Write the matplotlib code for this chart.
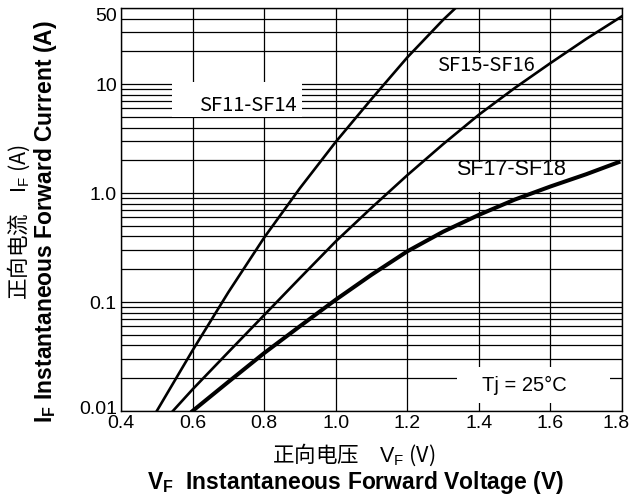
import numpy as np
import matplotlib
matplotlib.use('Agg')
import matplotlib.pyplot as plt
from matplotlib.patches import Rectangle
from matplotlib.ticker import FixedLocator, NullFormatter
from matplotlib.transforms import ScaledTranslation

plt.rcParams['font.family'] = ['Liberation Sans', 'DejaVu Sans']
plt.rcParams['mathtext.fontset'] = 'custom'
plt.rcParams['mathtext.rm'] = 'Liberation Sans'
plt.rcParams['mathtext.it'] = 'Liberation Sans'
plt.rcParams['mathtext.bf'] = 'Liberation Sans:bold'

# forward voltage (V) vs forward current (A)
vf_sf11 = [0.50, 0.60, 0.70, 0.80, 0.90, 1.00, 1.10, 1.20, 1.30, 1.335]
if_sf11 = [0.01, 0.036, 0.123, 0.39, 1.11, 2.95, 7.3, 17.6, 38.9, 50]

vf_sf15 = [0.545, 0.60, 0.70, 0.80, 0.90, 1.00, 1.10, 1.20, 1.30, 1.40, 1.50, 1.60, 1.70, 1.80]
if_sf15 = [0.01, 0.0158, 0.0347, 0.0759, 0.166, 0.36, 0.733, 1.46, 2.81, 5.24, 9.2, 15.6, 26, 42]

vf_sf17 = [0.60, 0.70, 0.80, 0.90, 1.00, 1.10, 1.20, 1.30, 1.40, 1.50, 1.60, 1.70, 1.79]
if_sf17 = [0.01, 0.0185, 0.034, 0.06, 0.105, 0.178, 0.292, 0.442, 0.631, 0.871, 1.15, 1.49, 1.92]

x_ticks = [0.4, 0.6, 0.8, 1.0, 1.2, 1.4, 1.6, 1.8]
x_labels = ['0.4', '0.6', '0.8', '1.0', '1.2', '1.4', '1.6', '1.8']
y_ticks = [0.01, 0.1, 1.0, 10, 50]
y_labels = ['0.01', '0.1', '1.0', '10', '50']

W, H = 630, 499
fig = plt.figure(figsize=(W / 100, H / 100), dpi=100)
ax = fig.add_axes([121 / W, 1 - 411 / H, 501 / W, 403 / H])

ax.set_yscale('log')
ax.set_xlim(0.4, 1.8)
ax.set_ylim(0.01, 50)

# grid: every minor decade step horizontally, major volts vertically
minor_y = [m * 10.0 ** e for e in range(-2, 2) for m in range(1, 10)] + [50]
ax.yaxis.set_minor_locator(FixedLocator(minor_y))
ax.yaxis.set_minor_formatter(NullFormatter())
ax.set_yticks(y_ticks)
ax.set_yticklabels(y_labels)
ax.set_xticks(x_ticks)
ax.set_xticklabels(x_labels)
ax.grid(True, which='both', axis='y', color='black', lw=0.9)
ax.grid(True, which='major', axis='x', color='black', lw=0.9)
ax.tick_params(which='both', length=0, labelsize=14, pad=3)
for s in ax.spines.values():
    s.set_linewidth(1.0)

# small nudges on the end labels, as in the datasheet
ylabs = ax.yaxis.get_majorticklabels()
ylabs[-1].set_va('top')
ylabs[0].set_transform(ylabs[0].get_transform() +
                       ScaledTranslation(0, 3 / 100, fig.dpi_scale_trans))
xlabs = ax.xaxis.get_majorticklabels()
xlabs[-1].set_transform(xlabs[-1].get_transform() +
                        ScaledTranslation(-6 / 100, 0, fig.dpi_scale_trans))

ax.plot(vf_sf11, if_sf11, color='black', lw=1.9, zorder=4)
ax.plot(vf_sf15, if_sf15, color='black', lw=1.9, zorder=4)
ax.plot(vf_sf17, if_sf17, color='black', lw=2.9, zorder=4)


def label(x, y, text, box, family, size):
    x0, x1, y0, y1 = box
    ax.add_patch(Rectangle((x0, y0), x1 - x0, y1 - y0, facecolor='white',
                           edgecolor='none', zorder=3))
    ax.text(x, y, text, ha='center', va='center', fontsize=size,
            family=family, zorder=5)


label(0.755, 6.4, 'SF11-SF14', (0.542, 0.905, 4.95, 10.4),
      ['Noto Sans CJK JP', 'DejaVu Sans'], 14.5)
label(1.42, 14.9, 'SF15-SF16', (1.27, 1.57, 10.3, 19.5),
      ['Noto Sans CJK JP', 'DejaVu Sans'], 14.5)
label(1.489, 1.63, 'SF17-SF18', (1.32, 1.655, 1.03, 1.93),
      ['Liberation Sans'], 15.5)
label(1.528, 0.0173, 'Tj = 25°C', (1.339, 1.766, 0.0118, 0.0253),
      ['Liberation Sans'], 14.5)

cjk = ['Noto Sans CJK SC', 'DejaVu Sans']
fig.text(19 / W, 1 - 222 / H, '正向电流　$I_F$ (A)', rotation=90,
         ha='center', va='center', fontsize=15.5, family=cjk)
fig.text(46 / W, 1 - 222 / H, r'$\mathbf{I_F}$ Instantaneous Forward Current (A)',
         rotation=90, ha='center', va='center', fontsize=16.5, fontweight='bold')
fig.text(354 / W, 1 - 455 / H, '正向电压　$V_F$ (V)',
         ha='center', va='center', fontsize=15.5, family=cjk)
fig.text(355 / W, 1 - 482 / H, r'$\mathbf{V_F}$  Instantaneous Forward Voltage (V)',
         ha='center', va='center', fontsize=16.5, fontweight='bold')

fig.savefig('out.png', dpi=100)
